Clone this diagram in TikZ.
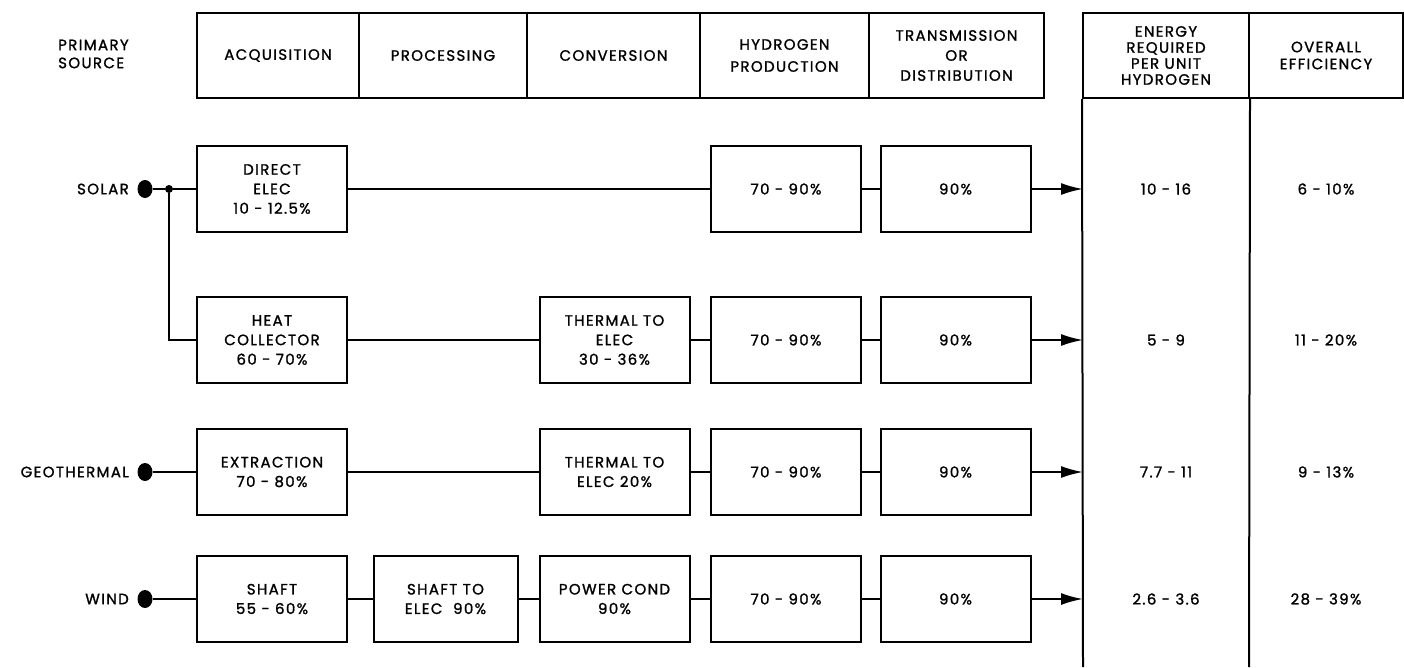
\documentclass[tikz,border=0pt]{standalone}
\usepackage{fontspec}
\setmainfont{Poppins}[LetterSpace=9, FakeBold=1.3]
\usetikzlibrary{arrows.meta,shapes.geometric}
\begin{document}
\begin{tikzpicture}[x=1pt,y=-1pt,
  every node/.style={font=\fontsize{15}{19.5}\selectfont, align=center, inner sep=0pt},
  hdr/.style={draw, line width=2pt, minimum height=85pt},
  blk/.style={draw, line width=2pt, minimum width=150pt, minimum height=86pt},
  wire/.style={line width=2pt},
  feed/.style={line width=2pt, -{Latex[length=22pt,width=12pt]}},
  srcdot/.style={ellipse, fill, minimum width=15pt, minimum height=18pt},
  joint/.style={circle, fill, minimum size=8pt},
  srclabel/.style={anchor=east},
  val/.style={}
]
\useasboundingbox (0,0) rectangle (1404,667);

% column headings
\node[anchor=west, align=left, font=\fontsize{15}{18}\selectfont] (ps) at (58,54) {PRIMARY\\SOURCE};
\node[hdr, minimum width=162pt] (hacq) at (278,55.5) {ACQUISITION};
\node[hdr, minimum width=168pt] (hproc) at (443,55.5) {PROCESSING};
\node[hdr, minimum width=173pt] (hconv) at (613.5,55.5) {CONVERSION};
\node[hdr, minimum width=169pt, font=\fontsize{15}{22}\selectfont] (hhyd) at (784.5,55.5) {HYDROGEN\\PRODUCTION};
\node[hdr, minimum width=175pt, font=\fontsize{15}{20}\selectfont] (htr) at (956.5,55.5) {TRANSMISSION\\OR\\DISTRIBUTION};
\node[hdr, minimum width=166pt, font=\fontsize{15}{16}\selectfont] (hen) at (1166,55.5) {ENERGY\\REQUIRED\\PER UNIT\\HYDROGEN};
\node[hdr, minimum width=154pt, font=\fontsize{15}{17}\selectfont] (hov) at (1326,55.5) {OVERALL\\EFFICIENCY};

% result columns continue to the bottom edge
\draw[wire] (hen.south west) -- (1083,667);
\draw[wire] (hen.south east) -- (1249,667);
\coordinate (a1) at (1083,189);
\coordinate (a2) at (1083,340);
\coordinate (a3) at (1083,472);
\coordinate (a4) at (1083,599);

% SOLAR, direct electric path
\node[srclabel] (lsol) at (129,189) {SOLAR};
\node[srcdot] (dsol) at (145,189) {};
\node[joint] (jsol) at (169,189) {};
\node[blk] (d1) at (272,189) {DIRECT\\ELEC\\10 - 12.5\%};
\node[blk] (y1) at (786,189) {70 - 90\%};
\node[blk] (t1) at (955.5,189) {90\%};
\draw[wire] (dsol) -- (jsol) -- (d1);
\draw[wire] (d1) -- (y1);
\draw[wire] (y1) -- (t1);
\draw[feed] (t1) -- (a1);
\node[val] (e1) at (1166,189) {10 - 16};
\node[val] (o1) at (1326,189) {6 - 10\%};

% SOLAR, heat collector path
\node[blk] (h2) at (272,340) {HEAT\\COLLECTOR\\60 - 70\%};
\node[blk] (c2) at (614.5,340) {THERMAL TO\\ELEC\\30 - 36\%};
\node[blk] (y2) at (786,340) {70 - 90\%};
\node[blk] (t2) at (955.5,340) {90\%};
\draw[wire] (jsol) |- (h2);
\draw[wire] (h2) -- (c2);
\draw[wire] (c2) -- (y2);
\draw[wire] (y2) -- (t2);
\draw[feed] (t2) -- (a2);
\node[val] (e2) at (1166,340) {5 - 9};
\node[val] (o2) at (1326,340) {11 - 20\%};

% GEOTHERMAL
\node[srclabel] (lgeo) at (129,472) {GEOTHERMAL};
\node[srcdot] (dgeo) at (145,472) {};
\node[blk] (x3) at (272,472) {EXTRACTION\\70 - 80\%};
\node[blk] (c3) at (614.5,472) {THERMAL TO\\ELEC 20\%};
\node[blk] (y3) at (786,472) {70 - 90\%};
\node[blk] (t3) at (955.5,472) {90\%};
\draw[wire] (dgeo) -- (x3);
\draw[wire] (x3) -- (c3);
\draw[wire] (c3) -- (y3);
\draw[wire] (y3) -- (t3);
\draw[feed] (t3) -- (a3);
\node[val] (e3) at (1166,472) {7.7 - 11};
\node[val] (o3) at (1326,472) {9 - 13\%};

% WIND
\node[srclabel] (lwin) at (129,599) {WIND};
\node[srcdot] (dwin) at (145,599) {};
\node[blk] (s4) at (272,599) {SHAFT\\55 - 60\%};
\node[blk, minimum width=144pt] (p4) at (445.5,599) {SHAFT TO\\ELEC\ \ 90\%};
\node[blk] (c4) at (614.5,599) {POWER COND\\90\%};
\node[blk] (y4) at (786,599) {70 - 90\%};
\node[blk] (t4) at (955.5,599) {90\%};
\draw[wire] (dwin) -- (s4);
\draw[wire] (s4) -- (p4);
\draw[wire] (p4) -- (c4);
\draw[wire] (c4) -- (y4);
\draw[wire] (y4) -- (t4);
\draw[feed] (t4) -- (a4);
\node[val] (e4) at (1166,599) {2.6 - 3.6};
\node[val] (o4) at (1326,599) {28 - 39\%};
\end{tikzpicture}
\end{document}
